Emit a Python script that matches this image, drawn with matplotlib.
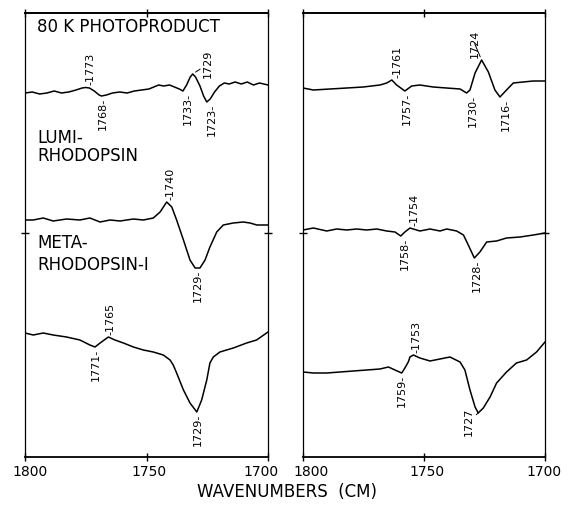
import numpy as np
import matplotlib
matplotlib.use("Agg")
import matplotlib.pyplot as plt
from matplotlib.transforms import ScaledTranslation

# left panel (first series of spectra), wavenumber vs. absorbance change (arb. units, offset)
photo_wn = [1800, 1797, 1794, 1791, 1788, 1785, 1782, 1779, 1776.5, 1775, 1773.5, 1771.5, 1769.5,
            1768.5, 1766.5, 1764, 1761, 1758, 1755, 1752, 1749, 1747, 1745, 1743, 1740.5, 1738.5,
            1736.5, 1735, 1733.5, 1732, 1731, 1729.8, 1728, 1726.5, 1725.2, 1723.8, 1722, 1720,
            1718, 1716, 1713.5, 1711, 1708.5, 1706, 1703.5, 1700]
photo_a = [36.4, 36.5, 36.3, 36.4, 36.6, 36.4, 36.5, 36.7, 36.9, 36.95, 36.9, 36.6, 36.2, 36.1,
           36.2, 36.4, 36.5, 36.4, 36.6, 36.7, 36.8, 37.0, 37.2, 37.1, 37.2, 37.0, 36.8, 36.6,
           37.2, 38.0, 38.3, 38.0, 37.1, 36.1, 35.5, 35.8, 36.5, 37.1, 37.4, 37.3, 37.5, 37.3,
           37.5, 37.2, 37.4, 37.2]

lumi_wn = [1800, 1796.6, 1792.5, 1788.4, 1782.9, 1777.4, 1773.3, 1769.1, 1765.0, 1760.9, 1755.4,
           1751.3, 1747.2, 1744.4, 1741.7, 1739.6, 1737.6, 1734.8, 1732.1, 1730.0, 1728.0, 1725.9,
           1723.9, 1721.1, 1718.4, 1714.3, 1710.2, 1707.4, 1704.6, 1700]
lumi_a = [23.7, 23.7, 23.9, 23.6, 23.8, 23.7, 23.9, 23.5, 23.7, 23.6, 23.8, 23.7, 23.9, 24.5,
          25.5, 25.0, 23.7, 21.7, 19.7, 18.9, 18.9, 19.7, 21.0, 22.5, 23.2, 23.4, 23.5, 23.4,
          23.2, 23.2]

meta_wn = [1800, 1796.6, 1792.5, 1788.4, 1782.9, 1777.4, 1773.3, 1771.2, 1769.1, 1765.7, 1763.0,
           1759.5, 1755.4, 1751.3, 1747.2, 1743.1, 1740.3, 1739.0, 1737.6, 1734.8, 1732.1, 1729.3,
           1727.3, 1725.2, 1723.9, 1722.5, 1719.8, 1714.3, 1708.8, 1704.7, 1700]
meta_a = [12.4, 12.2, 12.4, 12.2, 12.0, 11.7, 11.2, 11.0, 11.4, 12.0, 11.7, 11.4, 11.0, 10.7,
          10.5, 10.2, 9.7, 9.2, 8.4, 6.7, 5.4, 4.5, 5.7, 7.7, 9.4, 10.0, 10.5, 10.9, 11.4, 11.7,
          12.5]

# right panel (second series)
photo2_wn = [1800, 1795.7, 1788.8, 1781.9, 1775.1, 1768.2, 1765.4, 1763.3, 1761.3, 1757.9, 1755.1,
             1751.7, 1746.2, 1740.7, 1735.1, 1732.4, 1731.0, 1728.9, 1726.2, 1723.4, 1720.7,
             1718.6, 1715.9, 1713.1, 1709.0, 1704.9, 1700]
photo2_a = [36.9, 36.7, 36.8, 36.9, 37.0, 37.2, 37.4, 37.7, 37.2, 36.6, 37.1, 37.2, 37.0, 36.9,
            36.8, 36.4, 36.7, 38.4, 39.7, 38.5, 36.7, 36.0, 36.7, 37.4, 37.5, 37.6, 37.6]

lumi2_wn = [1800, 1795.7, 1790.2, 1786.1, 1781.9, 1777.8, 1773.7, 1769.5, 1765.4, 1762.0, 1759.6,
            1757.9, 1755.8, 1751.7, 1747.5, 1743.4, 1740.6, 1736.5, 1733.7, 1731.7, 1729.2, 1726.9,
            1724.1, 1720.0, 1715.9, 1710.3, 1704.8, 1700]
lumi2_a = [22.7, 22.9, 22.6, 22.8, 22.7, 22.8, 22.7, 22.8, 22.6, 22.5, 22.1, 22.5, 22.9, 22.6,
           22.8, 22.6, 22.8, 22.6, 22.2, 21.2, 19.9, 20.5, 21.5, 21.6, 21.9, 22.0, 22.2, 22.4]

meta2_wn = [1800, 1795.7, 1790.2, 1784.7, 1779.2, 1773.7, 1768.2, 1764.7, 1762.0, 1759.2, 1757.9,
            1756.5, 1755.8, 1754.4, 1751.7, 1747.5, 1743.4, 1739.3, 1735.1, 1733.1, 1731.0, 1728.9,
            1727.6, 1725.5, 1722.7, 1720.0, 1715.9, 1711.8, 1707.6, 1703.5, 1700]
meta2_a = [8.5, 8.4, 8.4, 8.5, 8.6, 8.7, 8.8, 9.0, 8.7, 8.4, 8.9, 9.5, 10.0, 10.2, 9.9, 9.6, 9.8,
           10.0, 9.5, 8.7, 6.7, 5.0, 4.4, 4.9, 6.0, 7.4, 8.5, 9.4, 9.7, 10.5, 11.5]

# band labels: (wavenumber, 'max' or 'min')
photo_bands = [(1773, "max"), (1768, "min"), (1733, "min"), (1729, "max"), (1723, "min")]
lumi_bands = [(1740, "max"), (1729, "min")]
meta_bands = [(1771, "min"), (1765, "max"), (1729, "min")]
photo2_bands = [(1761, "max"), (1757, "min"), (1730, "min"), (1724, "max"), (1716, "min")]
lumi2_bands = [(1758, "min"), (1754, "max"), (1728, "min")]
meta2_bands = [(1759, "min"), (1753, "max"), (1727, "min")]

xticks = [1800, 1750, 1700]

# labels drawn off to the side with a slanted tick line (offset in points)
slanted = {("L", 1729, "max"): (11, -3), ("R", 1724, "max"): (-5, 1.5), ("R", 1727, "min"): (-7, 4)}
# hand-lettered tick labels sit a little off their ticks (points)
tick_shift = {"L": [4, 2, -5], "R": [6, 2, -1]}

W, H = 567, 509
fig = plt.figure(figsize=(W / 100, H / 100), dpi=100)
ax_l = fig.add_axes([25 / W, 52 / H, 243 / W, 444 / H])
ax_r = fig.add_axes([303 / W, 52 / H, 242 / W, 444 / H])

label_fs = 8
head_fs = 12


def label_bands(ax, side, wn, a, bands):
    wn = np.asarray(wn)
    a = np.asarray(a)
    for pos, kind in bands:
        win = np.abs(wn - pos) <= 3
        if kind == "max":
            i = np.argmax(np.where(win, a, -np.inf))
        else:
            i = np.argmin(np.where(win, a, np.inf))
        key = (side, pos, kind)
        if key in slanted:
            dx, dy = slanted[key]
            ax.annotate(str(pos), xy=(wn[i], a[i]), xytext=(dx, dy), textcoords="offset points",
                        rotation=90, ha="center", va="bottom" if kind == "max" else "top",
                        fontsize=label_fs,
                        arrowprops=dict(arrowstyle="-", lw=0.7, shrinkA=0, shrinkB=2.5))
        elif kind == "max":
            ax.annotate("-" + str(pos), xy=(pos, a[i]), xytext=(0, 1.5), textcoords="offset points",
                        rotation=90, ha="center", va="bottom", fontsize=label_fs)
        else:
            ax.annotate(str(pos) + "-", xy=(pos, a[i]), xytext=(0, -1.5), textcoords="offset points",
                        rotation=90, ha="center", va="top", fontsize=label_fs)


for side, ax in (("L", ax_l), ("R", ax_r)):
    ax.set_xlim(1800, 1700)
    ax.set_ylim(0, 44.4)
    ax.set_xticks(xticks)
    ax.set_xticklabels([str(t) for t in xticks], fontsize=10)
    ax.set_yticks([22.4])
    ax.tick_params(axis="both", direction="inout", length=6, width=1.0, top=True, right=True,
                   labelleft=False, pad=3)
    for lab, dx in zip(ax.get_xticklabels(), tick_shift[side]):
        lab.set_transform(lab.get_transform() + ScaledTranslation(dx / 72, 0, fig.dpi_scale_trans))
    ax.spines["top"].set_linewidth(1.4)
    ax.spines["bottom"].set_linewidth(1.3)
    ax.spines["left"].set_linewidth(0.9)
    ax.spines["right"].set_linewidth(0.9)

ax_l.plot(photo_wn, photo_a, color="black", lw=1.1)
ax_l.plot(lumi_wn, lumi_a, color="black", lw=1.1)
ax_l.plot(meta_wn, meta_a, color="black", lw=1.1)
label_bands(ax_l, "L", photo_wn, photo_a, photo_bands)
label_bands(ax_l, "L", lumi_wn, lumi_a, lumi_bands)
label_bands(ax_l, "L", meta_wn, meta_a, meta_bands)

ax_r.plot(photo2_wn, photo2_a, color="black", lw=1.1)
ax_r.plot(lumi2_wn, lumi2_a, color="black", lw=1.1)
ax_r.plot(meta2_wn, meta2_a, color="black", lw=1.1)
label_bands(ax_r, "R", photo2_wn, photo2_a, photo2_bands)
label_bands(ax_r, "R", lumi2_wn, lumi2_a, lumi2_bands)
label_bands(ax_r, "R", meta2_wn, meta2_a, meta2_bands)

ax_l.text(0.049, 0.968, "80 K PHOTOPRODUCT", transform=ax_l.transAxes, fontsize=head_fs, va="center")
ax_l.text(0.049, 0.718, "LUMI-", transform=ax_l.transAxes, fontsize=head_fs, va="center")
ax_l.text(0.049, 0.678, "RHODOPSIN", transform=ax_l.transAxes, fontsize=head_fs, va="center")
ax_l.text(0.049, 0.482, "META-", transform=ax_l.transAxes, fontsize=head_fs, va="center")
ax_l.text(0.049, 0.432, "RHODOPSIN-I", transform=ax_l.transAxes, fontsize=head_fs, va="center")

fig.text(287 / W, 1 - 492 / H, "WAVENUMBERS  (CM)", ha="center", va="center", fontsize=head_fs)

fig.savefig("out.png", dpi=100)
